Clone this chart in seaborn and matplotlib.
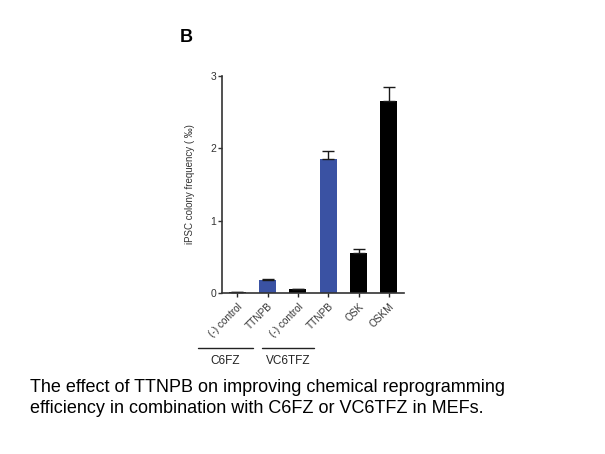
import numpy as np
import pandas as pd
import matplotlib
matplotlib.use("Agg")
import matplotlib.pyplot as plt
import seaborn as sns

# ---- data ----
labels = ["(-) control", "TTNPB", "(-) control ", "TTNPB ", "OSK", "OSKM"]
values = [0.01, 0.18, 0.05, 1.85, 0.56, 2.65]
errors = [0.01, 0.01, 0.01, 0.11, 0.05, 0.20]
kinds = ["ctrl", "ttnpb", "ctrl", "ttnpb", "ctrl", "ctrl"]
groups = ["C6FZ", "VC6TFZ"]

df = pd.DataFrame({"label": labels, "value": values, "err": errors, "kind": kinds})

sns.set_style("ticks")
plt.rcParams["font.family"] = ["Liberation Sans", "DejaVu Sans"]

fig = plt.figure(figsize=(6.05, 4.54), dpi=100)
ax = fig.add_axes([0.367, 0.3546, 0.301, 0.478])

palette = {"ctrl": "#000000", "ttnpb": "#3A52A3"}
sns.barplot(data=df, x="label", y="value", hue="kind", palette=palette,
            width=0.56, dodge=False, legend=False, ax=ax, saturation=1,
            errorbar=None, linewidth=0)

# one-sided error bars (upward only)
x = np.arange(len(labels))
ax.errorbar(x, df["value"], yerr=[np.zeros(len(x)), df["err"]], fmt="none",
            ecolor="#1a1a1a", elinewidth=1, capsize=4, capthick=1)

ax.set_xlim(-0.5, 5.5)
ax.set_ylim(0, 3)
ax.set_yticks([0, 1, 2, 3])
ax.set_xlabel("")
ax.set_ylabel("iPSC colony frequency ( \u2030)", fontsize=7, color="#333333", labelpad=11)
ax.set_xticks(x)
ax.set_xticklabels([l.strip() for l in labels], rotation=45, ha="right",
                   rotation_mode="anchor", fontsize=7.2, color="#333333")
ax.tick_params(axis="y", labelsize=7.5, colors="#333333", length=3, width=1, pad=1)
ax.tick_params(axis="x", length=3, width=1, pad=3)
for s in ["left", "bottom"]:
    ax.spines[s].set_linewidth(1.2)
    ax.spines[s].set_color("#333333")
sns.despine(ax=ax)

# group brackets under the tick labels
for (x0, x1), g in zip([(198, 253), (262, 314)], groups):
    fig.add_artist(plt.Line2D([x0 / 605, x1 / 605], [1 - 348 / 454] * 2,
                              color="#222222", lw=1))
    fig.text((x0 + x1) / 2 / 605, 1 - 361 / 454, g, ha="center", va="center",
             fontsize=8.5, color="#222222")

fig.text(180 / 605, 1 - 38 / 454, "B", fontsize=13, fontweight="bold",
         ha="left", va="center", color="black")

fig.text(30 / 605, 1 - 398 / 454,
         "The effect of TTNPB on improving chemical reprogramming\n"
         "efficiency in combination with C6FZ or VC6TFZ in MEFs.",
         fontsize=13, ha="left", va="center", linespacing=1.3, color="black")

plt.savefig("out.png", dpi=100)
